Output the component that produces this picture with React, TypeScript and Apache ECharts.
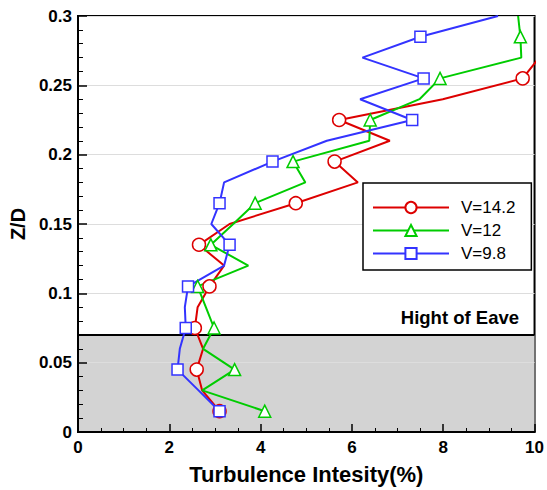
import React, { useEffect, useRef } from "react";
import * as echarts from "echarts";

// Heights Z/D (0.015 step)
const zd = [0.015, 0.03, 0.045, 0.06, 0.075, 0.09, 0.105, 0.12, 0.135, 0.15, 0.165, 0.18, 0.195, 0.21, 0.225, 0.24, 0.255, 0.27, 0.285, 0.3];

// Turbulence intensity (%) for each velocity
const v142 = [3.1, 2.72, 2.6, 2.74, 2.56, 2.62, 2.88, 3.2, 2.65, 3.32, 4.77, 6.13, 5.62, 6.83, 5.72, 7.99, 9.74, 10.1];
const v12 = [4.09, 2.72, 3.43, 2.74, 2.98, 2.8, 2.62, 3.73, 2.91, 3.4, 3.88, 4.98, 4.71, 6.38, 6.4, 7.48, 7.93, 9.71, 9.69, 9.64];
const v98 = [3.1, 2.64, 2.18, 2.23, 2.36, 2.34, 2.41, 3.2, 3.32, 2.92, 3.1, 3.2, 4.26, 5.45, 7.32, 6.18, 7.57, 6.23, 7.5, 9.2];

const seriesNames = ["V=14.2", "V=12", "V=9.8"];
const eaveHeight = 0.07;
const eaveLabel = "Hight of Eave";
const xTicks = [0, 2, 4, 6, 8, 10];
const yTicks = [0, 0.05, 0.1, 0.15, 0.2, 0.25, 0.3];

const FONT = "'Liberation Sans', Arial, sans-serif";

function build(xs: number[]) {
  return xs.map((x, i) => {
    const item: any = { value: [x, zd[i]] };
    if (i % 2 === 1) item.symbol = "none";
    return item;
  });
}

export default function App() {
  const ref = useRef<HTMLDivElement>(null);
  useEffect(() => {
    const chart = echarts.init(ref.current!, null, { renderer: "svg" });
    const colors = ["#dd0000", "#00cc00", "#3333ff"];
    const symbols = ["circle", "triangle", "rect"];
    const sizes = [13, 12, 11];
    const datasets = [v142, v12, v98];
    const series: any[] = datasets.map((xs, k) => ({
      name: seriesNames[k],
      type: "line",
      data: build(xs),
      symbol: symbols[k],
      symbolSize: sizes[k],
      showAllSymbol: true,
      color: colors[k],
      lineStyle: { color: colors[k], width: 2 },
      itemStyle: { color: "#ffffff", borderColor: colors[k], borderWidth: 1.5 },
      z: 5,
      clip: true,
    }));
    series.unshift({
      name: "eave",
      type: "line",
      data: [],
      z: 1,
      markArea: {
        silent: true,
        itemStyle: { color: "#d3d3d3" },
        data: [[{ yAxis: 0 }, { yAxis: eaveHeight }]],
      },
      markLine: {
        silent: true,
        symbol: "none",
        label: { show: false },
        lineStyle: { color: "#000", width: 2, type: "solid" },
        data: [{ yAxis: eaveHeight }],
      },
    });
    chart.setOption({
      animation: false,
      textStyle: { fontFamily: FONT },
      grid: {
        left: 75.5,
        right: 11,
        top: 16,
        bottom: 57.5,
        show: true,
        borderColor: "#000",
        borderWidth: 2,
        backgroundColor: "transparent",
      },
      legend: {
        data: seriesNames,
        orient: "vertical",
        left: 363,
        top: 183,
        itemWidth: 76,
        itemHeight: 14,
        itemGap: 6,
        padding: [16, 16, 8, 9],
        backgroundColor: "#ffffff",
        borderColor: "#000",
        borderWidth: 1.5,
        textStyle: { fontSize: 17, color: "#000", fontFamily: FONT, padding: [0, 0, 0, 7] },
      },
      graphic: [
        {
          type: "text",
          right: 28,
          top: 308,
          z: 10,
          style: { text: eaveLabel, font: `bold 18.5px ${FONT}`, fill: "#000" },
        },
      ],
      xAxis: {
        type: "value",
        z: 3,
        min: xTicks[0],
        max: xTicks[xTicks.length - 1],
        interval: 2,
        name: "Turbulence Intesity(%)",
        nameLocation: "middle",
        nameGap: 31,
        nameTextStyle: { fontSize: 22, fontWeight: "bold", color: "#000", fontFamily: FONT },
        axisLine: { show: true, lineStyle: { color: "#000", width: 2 } },
        axisTick: { show: true, inside: true, length: 8, lineStyle: { color: "#000", width: 1.5 } },
        minorTick: { show: true, splitNumber: 4, length: 4, lineStyle: { color: "#000", width: 1 } },
        splitLine: { show: false },
        axisLabel: { fontSize: 17, fontWeight: "bold", color: "#000", margin: 7, fontFamily: FONT },
      },
      yAxis: {
        type: "value",
        z: 3,
        min: yTicks[0],
        max: yTicks[yTicks.length - 1],
        interval: 0.05,
        name: "Z/D",
        nameLocation: "middle",
        nameGap: 50,
        nameRotate: 90,
        nameTextStyle: { fontSize: 20, fontWeight: "bold", color: "#000", fontFamily: FONT },
        axisLine: { show: true, lineStyle: { color: "#000", width: 2 } },
        axisTick: { show: true, inside: true, length: 9, lineStyle: { color: "#000", width: 1.5 } },
        minorTick: { show: true, splitNumber: 5, length: 5, lineStyle: { color: "#000", width: 1 } },
        splitLine: { show: true, lineStyle: { color: "#dddddd", width: 1 } },
        axisLabel: {
          fontSize: 17,
          fontWeight: "bold",
          color: "#000",
          margin: 6,
          fontFamily: FONT,
          formatter: (v: number) => String(+v.toFixed(2)),
        },
      },
      series,
    });
    return () => chart.dispose();
  }, []);
  return <div ref={ref} style={{ width: 547, height: 490, position: "absolute", left: 0, top: 0 }} />;
}
